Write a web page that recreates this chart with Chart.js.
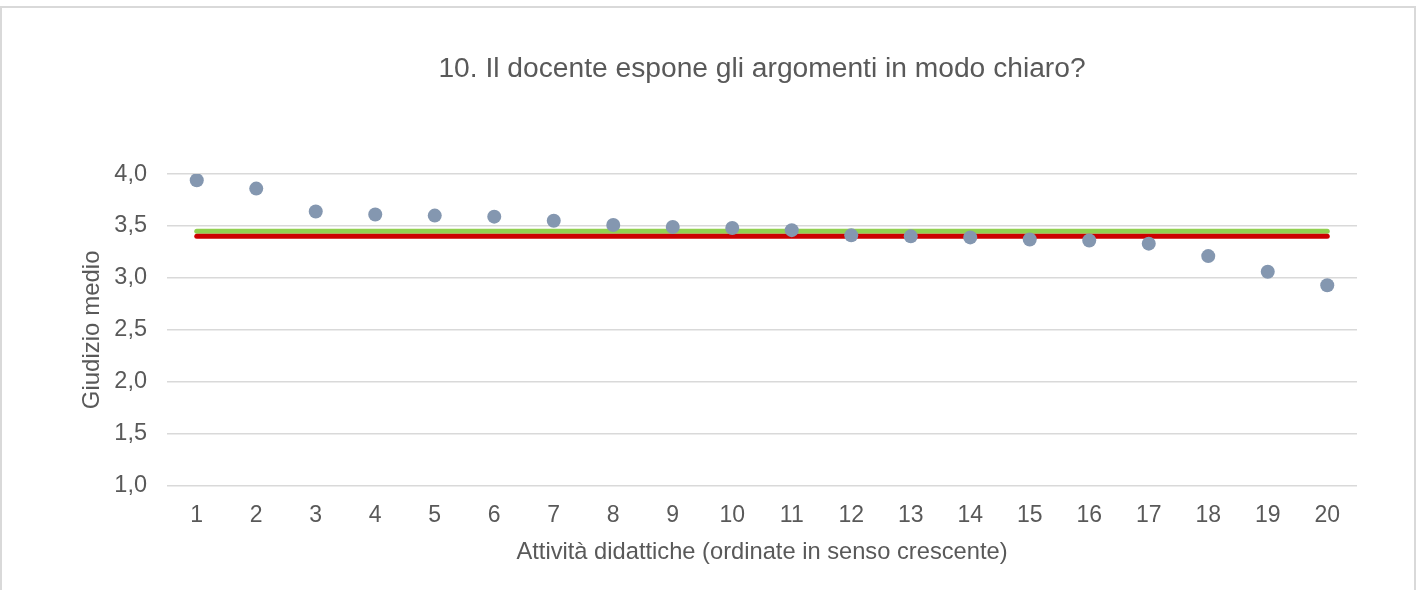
<!DOCTYPE html>
<html>
<head>
<meta charset="utf-8">
<script src="https://cdn.jsdelivr.net/npm/chart.js@4"></script>
<style>
  html, body { margin: 0; padding: 0; background: #ffffff; width: 1425px; height: 590px; overflow: hidden; }
  #frame { position: absolute; left: 0; top: 6px; width: 1416px; height: 620px; border: 2px solid #d9d9d9; box-sizing: border-box; }
  #c { position: absolute; left: 0; top: 0; }
</style>
</head>
<body>
<div id="frame"></div>
<canvas id="c" width="1425" height="590"></canvas>
<script>
const titleText = "10. Il docente espone gli argomenti in modo chiaro?";
const xTitle = "Attività didattiche (ordinate in senso crescente)";
const yTitle = "Giudizio medio";
const categories = ["1","2","3","4","5","6","7","8","9","10","11","12","13","14","15","16","17","18","19","20"];
const meanScores = [3.94, 3.86, 3.64, 3.61, 3.60, 3.59, 3.55, 3.51, 3.49, 3.48, 3.46, 3.41, 3.40, 3.39, 3.37, 3.36, 3.33, 3.21, 3.06, 2.93];
const greenRefValue = 3.45;
const redRefValue = 3.40;
const yMin = 1.0, yMax = 4.0, yStep = 0.5;

const greenLine = categories.map(() => greenRefValue);
const redLine = categories.map(() => redRefValue);

const FONT = "'Liberation Sans', Arial, sans-serif";
const TXT = "#595959";

new Chart(document.getElementById('c'), {
  type: 'line',
  data: {
    labels: categories,
    datasets: [
      {
        label: 'Giudizio medio',
        data: meanScores,
        showLine: false,
        pointRadius: 7,
        pointHoverRadius: 7,
        pointBackgroundColor: '#8497b0',
        pointBorderWidth: 0,
        borderColor: '#8497b0',
        order: 0
      },
      {
        label: 'Riferimento 1',
        data: greenLine,
        borderColor: '#92d050',
        borderWidth: 5,
        borderCapStyle: 'round',
        pointRadius: 0,
        order: 2
      },
      {
        label: 'Riferimento 2',
        data: redLine,
        borderColor: '#cc0000',
        borderWidth: 5,
        borderCapStyle: 'round',
        pointRadius: 0,
        order: 1
      }
    ]
  },
  options: {
    responsive: false,
    animation: false,
    layout: { padding: { left: 0, right: 68, top: 0, bottom: 0 } },
    plugins: {
      legend: { display: false },
      tooltip: { enabled: false },
      title: {
        display: true,
        fullSize: false,
        text: titleText,
        color: TXT,
        font: { family: FONT, size: 28.2, weight: 'normal' },
        padding: { top: 52, bottom: 88.2 }
      }
    },
    scales: {
      x: {
        type: 'category',
        offset: true,
        grid: { display: false, drawTicks: false },
        border: { display: false },
        ticks: { color: TXT, font: { family: FONT, size: 23 }, padding: 16.5, maxRotation: 0, autoSkip: false },
        title: { display: true, text: xTitle, color: TXT, font: { family: FONT, size: 23.7 }, padding: { top: 8, bottom: 23.6 } },
        afterFit: (s) => { s.height = 104.3; }
      },
      y: {
        min: yMin,
        max: yMax,
        grid: { color: '#d9d9d9', lineWidth: 1.5, drawTicks: false },
        border: { display: false },
        ticks: {
          stepSize: yStep,
          color: TXT,
          font: { family: FONT, size: 23.5 },
          padding: 20,
          callback: (v) => Number(v).toFixed(1).replace('.', ',')
        },
        title: { display: true, text: yTitle, color: TXT, font: { family: FONT, size: 24 }, padding: { top: 77.6, bottom: 0 } },
        afterFit: (s) => { s.width = 167; }
      }
    }
  }
});
</script>
</body>
</html>
